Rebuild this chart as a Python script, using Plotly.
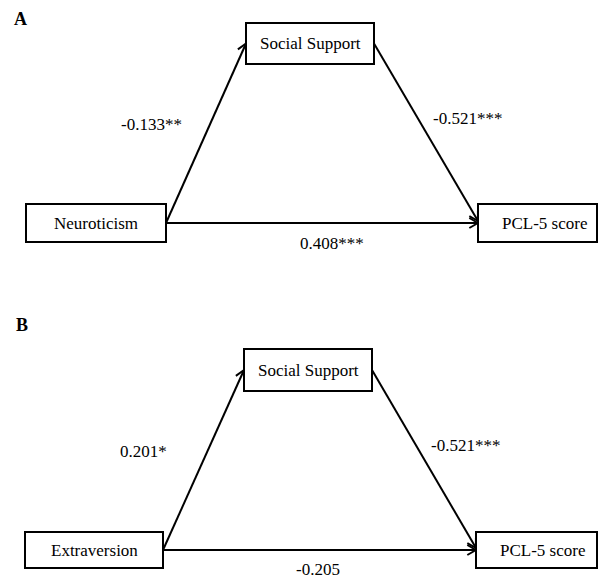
import math
import plotly.graph_objects as go

# ---- data ----
panel_labels = ["A", "B"]
predictors = ["Neuroticism", "Extraversion"]
mediator = "Social Support"
outcome = "PCL-5 score"
path_a = ["-0.133**", "0.201*"]       # predictor -> social support
path_b = ["-0.521***", "-0.521***"]   # social support -> PCL-5
path_c = ["0.408***", "-0.205"]       # predictor -> PCL-5 (direct)

# ---- layout geometry (pixels, y downward) ----
W, H = 598, 578
panels = [
    dict(lab=(20, 19),
         med=(246, 23, 374, 64), pred=(26, 204, 166, 242), out=(478, 204, 597, 242),
         out_txt=544,
         la=(151, 124), lb=(467, 118), lc=(332, 243)),
    dict(lab=(22, 325),
         med=(244, 349, 372, 391), pred=(25, 532, 163, 568), out=(476, 532, 597, 568),
         out_txt=542,
         la=(143, 451), lb=(465, 445), lc=(318, 569)),
]

FONT = "Liberation Serif, Times New Roman, serif"
fig = go.Figure()
shapes = []
annotations = []


def add_arrow(x0, y0, x1, y1):
    shapes.append(dict(type="line", x0=x0, y0=y0, x1=x1, y1=y1,
                       line=dict(color="black", width=2), xref="x", yref="y"))
    ang = math.atan2(y1 - y0, x1 - x0)
    L, a = 10, math.radians(30)
    for s in (-1, 1):
        hx = x1 - L * math.cos(ang + s * a)
        hy = y1 - L * math.sin(ang + s * a)
        shapes.append(dict(type="line", x0=x1, y0=y1, x1=hx, y1=hy,
                           line=dict(color="black", width=2), xref="x", yref="y"))


def add_box(b, text, tx=None):
    x0, y0, x1, y1 = b
    shapes.append(dict(type="rect", x0=x0, y0=y0, x1=x1, y1=y1,
                       line=dict(color="black", width=2), fillcolor="white",
                       xref="x", yref="y"))
    annotations.append(dict(x=tx if tx is not None else (x0 + x1) / 2, y=(y0 + y1) / 2,
                            text=text, showarrow=False, xref="x", yref="y",
                            font=dict(family=FONT, size=17, color="black")))


def add_label(p, text):
    annotations.append(dict(x=p[0], y=p[1], text=text, showarrow=False, xref="x", yref="y",
                            borderpad=0,
                            font=dict(family=FONT, size=17, color="black")))


for i, P in enumerate(panels):
    med, pred, out = P["med"], P["pred"], P["out"]
    py = (pred[1] + pred[3]) / 2
    my = (med[1] + med[3]) / 2
    oy = (out[1] + out[3]) / 2
    # arrows
    add_arrow(pred[2], py, med[0], my)
    add_arrow(med[2], my, out[0], oy - 2)
    add_arrow(pred[2], py, out[0], py)
    # boxes
    add_box(med, mediator)
    add_box(pred, predictors[i])
    add_box(out, outcome, P["out_txt"])
    # coefficients
    add_label(P["la"], path_a[i])
    add_label(P["lb"], path_b[i])
    add_label(P["lc"], path_c[i])
    # panel label
    annotations.append(dict(x=P["lab"][0], y=P["lab"][1], text="<b>%s</b>" % panel_labels[i],
                            showarrow=False, xref="x", yref="y",
                            font=dict(family=FONT, size=18, color="black")))

fig.update_layout(
    width=W, height=H,
    margin=dict(l=0, r=0, t=0, b=0),
    paper_bgcolor="white", plot_bgcolor="white",
    xaxis=dict(range=[0, W], visible=False, fixedrange=True),
    yaxis=dict(range=[H, 0], visible=False, fixedrange=True),
    shapes=shapes, annotations=annotations,
    showlegend=False,
)
fig.write_html(
    "out.html",
    config={"displayModeBar": False},
    post_script="document.body.style.margin='0px';document.body.style.overflow='hidden';",
)
